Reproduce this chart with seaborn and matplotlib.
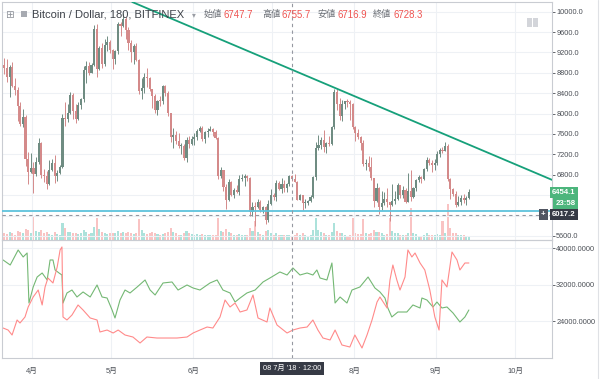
import matplotlib
matplotlib.use("Agg")
import matplotlib.pyplot as plt
import matplotlib.dates as mdates
from matplotlib.patches import Rectangle
from matplotlib.lines import Line2D
from matplotlib.ticker import FuncFormatter
import numpy as np
import pandas as pd
import seaborn as sns

# ---- data (daily bars from 2018-03-21) ----
start = pd.Timestamp("2018-03-21")
first_open = 8960

close = [
    8900, 8720, 8920, 8550, 8460, 8150, 7800, 7940, 7100, 6850,
    6940, 6820, 7060, 7420, 6800, 6780, 6620, 6900, 7030, 6770,
    6830, 6950, 7920, 7890, 8010, 8360, 8060, 7900, 8170, 8290,
    8860, 8930, 8800, 8950, 9660, 8870, 9290, 8970, 9350, 9410,
    9250, 9080, 9230, 9750, 9720, 9860, 9650, 9380, 9200, 9330,
    9060, 8450, 8500, 8720, 8690, 8490, 8350, 8070, 8250, 8240,
    8540, 8410, 8010, 7540, 7590, 7470, 7360, 7370, 7120, 7480,
    7400, 7500, 7540, 7650, 7720, 7500, 7630, 7660, 7690, 7630,
    7530, 6780, 6890, 6560, 6310, 6650, 6410, 6510, 6470, 6710,
    6740, 6780, 6730, 6060, 6170, 6160, 6270, 6100, 6170, 5910,
    6230, 6410, 6370, 6630, 6520, 6610, 6540, 6610, 6770, 6720,
    6660, 6310, 6400, 6250, 6250, 6280, 6360, 6750, 7330, 7390,
    7480, 7340, 7420, 7410, 7730, 8430, 8180, 7950, 8190, 8240,
    8220, 8190, 7740, 7610, 7550, 7430, 7020, 7040, 6950, 6730,
    6290, 6550, 6160, 6250, 6330, 6260, 6200, 6280, 6320, 6590,
    6400, 6500, 6270, 6490, 6370, 6540, 6700, 6750, 6710, 6920,
    7090, 7040, 6990, 7030, 7200, 7280, 7270, 7370, 6710, 6520,
    6420, 6210, 6260, 6340, 6300, 6340, 6454.1,
]
high = [
    9100, 9080, 8950, 9020, 8700, 8520, 8220, 8090, 7980, 7250,
    7220, 7060, 7150, 7520, 7440, 6920, 6870, 7080, 7110, 7180,
    6900, 6990, 8000, 8220, 8180, 8420, 8400, 8180, 8230, 8300,
    8930, 9040, 9010, 9000, 9740, 9760, 9330, 9390, 9460, 9530,
    9450, 9260, 9250, 9800, 9800, 9980, 9890, 9700, 9450, 9370,
    9380, 9080, 8690, 8790, 8890, 8720, 8490, 8380, 8270, 8340,
    8570, 8570, 8440, 8020, 7720, 7660, 7620, 7420, 7400, 7540,
    7570, 7570, 7620, 7700, 7760, 7760, 7650, 7720, 7760, 7710,
    7670, 7540, 6950, 6900, 6610, 6710, 6680, 6550, 6600, 6800,
    6810, 6810, 6800, 6750, 6260, 6270, 6320, 6310, 6190, 6180,
    6300, 6530, 6450, 6700, 6670, 6740, 6690, 6640, 6800, 6790,
    6810, 6680, 6420, 6400, 6330, 6310, 6400, 6780, 7450, 7590,
    7550, 7680, 7450, 7560, 7760, 8480, 8490, 8300, 8270, 8250,
    8290, 8270, 8210, 7760, 7700, 7560, 7490, 7100, 7170, 7150,
    6740, 6630, 6560, 6480, 6470, 6540, 6270, 6620, 6480, 6630,
    6600, 6580, 6550, 6830, 6890, 6560, 6720, 6800, 6780, 6940,
    7140, 7130, 7080, 7100, 7260, 7330, 7350, 7440, 7400, 6730,
    6550, 6480, 6380, 6400, 6420, 6380, 6520,
]
low = [
    8780, 8620, 8330, 8530, 8370, 7860, 7760, 7740, 6980, 6610,
    6840, 6440, 6780, 7020, 6730, 6650, 6530, 6600, 6880, 6630,
    6670, 6810, 6930, 7760, 7830, 7990, 7900, 7820, 7880, 8100,
    8220, 8610, 8760, 8790, 8940, 8720, 8850, 8900, 8930, 9220,
    9180, 8870, 8970, 9160, 9520, 9690, 9470, 9240, 9020, 8980,
    9040, 8390, 8290, 8410, 8530, 8440, 8110, 8020, 7970, 8150,
    8180, 8350, 7950, 7450, 7330, 7400, 7330, 7200, 7080, 7060,
    7320, 7380, 7390, 7490, 7630, 7470, 7420, 7550, 7650, 7560,
    7510, 6720, 6730, 6480, 6120, 6290, 6380, 6340, 6440, 6410,
    6670, 6570, 6680, 5990, 5990, 5800, 6150, 6070, 6040, 5830,
    5870, 6210, 6300, 6290, 6500, 6450, 6470, 6470, 6570, 6680,
    6650, 6300, 6310, 6100, 6150, 6200, 6260, 6340, 6690, 7290,
    7300, 7250, 7230, 7370, 7380, 7700, 8080, 7880, 7850, 8090,
    8120, 7880, 7690, 7460, 7500, 7290, 6970, 6890, 6880, 6700,
    6160, 6260, 6030, 6110, 6200, 6170, 5890, 6190, 6220, 6300,
    6340, 6350, 6250, 6260, 6290, 6350, 6480, 6660, 6640, 6700,
    6880, 6990, 6860, 6900, 7000, 7150, 7220, 7260, 6680, 6330,
    6380, 6160, 6180, 6200, 6250, 6210, 6320,
]
volume = [
    1.2, 1.0, 1.4, 1.1, 0.9, 1.5, 1.3, 1.1, 1.8, 1.6,
    1.2, 4.1, 1.5, 1.4, 1.6, 1.2, 1.3, 1.0, 0.9, 1.3,
    1.0, 0.9, 2.9, 2.0, 1.3, 1.4, 1.2, 1.1, 1.0, 1.1,
    1.6, 1.3, 1.0, 1.1, 2.2, 3.7, 1.8, 1.4, 1.2, 1.0,
    1.1, 1.2, 1.1, 1.5, 1.1, 1.3, 1.2, 1.3, 1.2, 1.0,
    1.1, 3.6, 1.6, 1.2, 1.0, 1.1, 1.3, 1.2, 1.0, 0.8,
    1.0, 1.1, 1.4, 2.0, 1.4, 1.1, 0.8, 0.8, 1.2, 1.5,
    1.1, 1.0, 0.9, 1.0, 0.9, 1.0, 0.9, 0.8, 0.8, 0.8,
    0.9, 3.7, 1.5, 1.3, 1.9, 1.3, 1.1, 0.8, 0.9, 1.0,
    0.9, 0.9, 0.8, 2.0, 1.5, 3.2, 1.4, 1.0, 0.9, 1.5,
    1.6, 1.1, 0.9, 1.2, 0.9, 0.9, 0.8, 0.8, 0.9, 0.7,
    0.8, 1.2, 0.9, 1.1, 0.8, 0.7, 0.8, 1.6, 3.7, 1.6,
    1.3, 1.1, 0.9, 0.8, 1.4, 2.9, 1.5, 1.2, 1.1, 0.8,
    0.7, 0.9, 3.7, 1.2, 1.0, 1.0, 3.5, 1.1, 1.0, 1.1,
    1.6, 1.3, 1.4, 1.1, 0.9, 1.0, 3.7, 1.5, 1.1, 1.2,
    0.9, 0.8, 0.9, 1.2, 5.4, 1.1, 1.0, 0.7, 0.7, 0.9,
    1.1, 0.9, 0.9, 0.8, 1.0, 0.9, 3.2, 1.2, 6.1, 2.0,
    1.2, 1.1, 0.9, 0.8, 0.8, 0.7, 0.6,
]

# lower pane: two indicator lines (days after 2018-03-21, value)
green_day = [
    0, 2.7, 5.7, 7.6, 9.1, 9.8, 11.4, 12.9, 14.8, 16.7,
    17.8, 18.9, 19.7, 21.2, 22.3, 22.7, 24.2, 26.1, 28, 30.3,
    33, 35.6, 37.5, 39.4, 41.3, 42.4, 44.3, 46.2, 48.1, 50.8,
    53.8, 55.7, 57.6, 60.6, 64, 66.3, 69.7, 72, 74.6, 78.4,
    81.1, 83.3, 86, 87.9, 89.8, 92.4, 95.5, 98.5, 101.1, 104.9,
    107.6, 109.8, 112.5, 115.2, 117.4, 118.9, 120.1, 122.7, 124.6, 125.8,
    127.7, 130.3, 132.2, 135.2, 138.3, 140.9, 142.8, 144.7, 145.8, 147.3,
    149.6, 153, 155.3, 158, 158.7, 160.6, 162.9, 164.4, 166.3, 168.2,
    170.5, 173.1, 175, 176.5,
]
green_val = [
    37480, 36380, 39670, 38140, 39010, 28050, 31560, 33750, 34630, 33100,
    37480, 37480, 35290, 34630, 34190, 28050, 30250, 30900, 29370, 30470,
    29370, 32000, 29370, 29150, 26520, 24770, 28710, 30900, 30250, 31560,
    33100, 30900, 29810, 32440, 32660, 30900, 32000, 31340, 30900, 32440,
    33100, 30900, 30250, 28270, 29150, 30250, 30900, 32660, 33530, 34850,
    34190, 35730, 34190, 34630, 34190, 35290, 33530, 33100, 36820, 28050,
    29370, 28050, 30900, 31560, 33750, 31340, 30470, 29150, 26960, 24990,
    26080, 26080, 27620, 26960, 29150, 28710, 27180, 28270, 26960, 27180,
    25860, 23890, 24990, 26520,
]
red_day = [
    0, 1.9, 3.4, 5.3, 6.4, 8.3, 9.5, 11.4, 13.3, 14.8,
    15.9, 17, 18.9, 20.5, 21.6, 22.3, 22.7, 24.2, 26.1, 28.4,
    30.3, 33, 35.6, 36.7, 39.4, 41.7, 43.6, 46.2, 49.2, 51.9,
    54.5, 58.3, 62.1, 65.9, 69.7, 72, 74.6, 77.3, 79.5, 82.2,
    84.1, 86, 87.9, 89.8, 92.4, 94.7, 96.6, 100, 101.1, 103.8,
    107.6, 109.8, 112.5, 115.2, 117.4, 119.3, 121.2, 123.9, 125.8, 128.4,
    131.4, 133.3, 136, 137.9, 139.8, 141.7, 142.8, 145.5, 146.6, 147.7,
    149.2, 150.4, 152.3, 153.4, 154.9, 156.1, 158, 159.8, 161.7, 163.6,
    165.2, 166.3, 168.2, 170.1, 172, 173.1, 175, 176.5,
]
red_val = [
    22570, 22130, 21040, 24330, 23670, 24990, 27180, 29370, 30900, 27620,
    31560, 33530, 32440, 35950, 39670, 40330, 24990, 24330, 25420, 27620,
    26520, 24770, 24330, 21700, 22130, 21480, 22130, 21040, 20600, 19290,
    20600, 20380, 20380, 20380, 20600, 21480, 22130, 22790, 22570, 24990,
    28710, 27180, 28050, 26080, 26520, 29810, 24770, 23890, 26960, 23230,
    21480, 22130, 22570, 22790, 24330, 22130, 20380, 19950, 22130, 18850,
    18410, 21040, 18190, 21040, 24330, 28270, 29370, 26960, 33100, 36380,
    33100, 30900, 33750, 39670, 38140, 39010, 36820, 35290, 30900, 24990,
    22130, 33100, 31560, 39230, 37480, 35290, 36820, 36820,
]

trend_when = ["2018-05-07 08:00", "2018-10-15 00:00"]
trend_price = [10225, 6700]
support_price = 6085
cross_when = "2018-07-08 12:00"
cross_price = 6017.2
last_price = 6454.1
countdown = "23:58"

# 6000 and 6400 sit behind the price tags, so they only get a grid line
price_ticks = [5600, 6800, 7200, 7600, 8000, 8400, 8800, 9200, 9600, 10000]
hidden_ticks = [6000, 6400]
osc_ticks = [24000, 32000, 40000]
month_dates = ["2018-04-01", "2018-05-01", "2018-06-01", "2018-07-01",
               "2018-08-01", "2018-09-01", "2018-10-01"]
# July's label is covered by the crosshair date box
month_labels = ["4月", "5月", "6月", "", "8月", "9月", "10月"]

symbol = "Bitcoin / Dollar, 180, BITFINEX"
ohlc_names = ["始値", "高値", "安値", "終値"]
ohlc_values = ["6747.7", "6755.7", "6716.9", "6728.3"]
cross_label = "08 7月 '18 · 12:00"

# ---- styling ----
sns.set_theme(style="white")
plt.rcParams["font.family"] = ["Liberation Sans", "Noto Sans CJK JP", "DejaVu Sans"]

UP, DOWN = "#6f8c82", "#d48a8a"
VOL_UP, VOL_DOWN = "#76cfc3", "#f59c9c"
GRID = "#eef1f5"
TXT = "#4b4f56"

W, H = 600, 379
fig = plt.figure(figsize=(6, 3.79), dpi=100)
fig.patch.set_facecolor("white")


def rect(l, t, r, b):
    return [l / W, 1 - b / H, (r - l) / W, (b - t) / H]


ax = fig.add_axes(rect(2, 2, 552, 240))
ax2 = fig.add_axes(rect(2, 240, 552, 358), sharex=ax)
vax = ax.twinx()
ax.set_zorder(vax.get_zorder() + 1)
ax.patch.set_visible(False)

bars = pd.DataFrame({
    "when": start + pd.to_timedelta(np.arange(len(close)) + 0.5, unit="D"),
    "open": [first_open] + close[:-1],
    "high": high,
    "low": low,
    "close": close,
    "volume": volume,
})
bars["up"] = bars["close"] >= bars["open"]
xnum = mdates.date2num(bars["when"])
colors = np.where(bars["up"], UP, DOWN)

# volume underneath the candles
vax.bar(xnum, bars["volume"], width=0.78, color=np.where(bars["up"], VOL_UP, VOL_DOWN),
        alpha=0.6, linewidth=0)
vax.set_ylim(0, 40)
vax.set_yticks([])
for s in vax.spines.values():
    s.set_visible(False)

# candles
ax.vlines(xnum, bars["low"], bars["high"], colors=colors, linewidth=0.7, zorder=3)
body_low = bars[["open", "close"]].min(axis=1)
body_h = (bars["close"] - bars["open"]).abs().clip(lower=20)
ax.bar(xnum, body_h, bottom=body_low, width=0.8, color=colors, linewidth=0, zorder=3)

# drawings
tw = mdates.date2num(pd.to_datetime(trend_when))
ax.axline((tw[0], trend_price[0]), (tw[1], trend_price[1]), color="#16a07a", lw=1.3, zorder=4)
ax.axhline(support_price, color="#5ec3dc", lw=1.3, zorder=4)
ax.axhline(cross_price, color="#9598a1", lw=0.8, ls=(0, (3, 3)), zorder=4)
cx = mdates.date2num(pd.Timestamp(cross_when))
for a in (ax, ax2):
    a.axvline(cx, color="#9598a1", lw=0.8, ls=(0, (3, 3)), zorder=4)

# lower pane lines
green = pd.DataFrame({"when": start + pd.to_timedelta(green_day, unit="D"), "value": green_val})
red = pd.DataFrame({"when": start + pd.to_timedelta(red_day, unit="D"), "value": red_val})
sns.lineplot(data=green, x="when", y="value", ax=ax2, color="#74b874", lw=0.8)
sns.lineplot(data=red, x="when", y="value", ax=ax2, color="#ff8a8a", lw=0.8)

# axes setup
ax.set_xlim(mdates.date2num(start - pd.Timedelta(hours=10)),
            mdates.date2num(pd.Timestamp("2018-10-15")))
ax.set_ylim(5520, 10190)
ax2.set_ylim(16000, 41860)

ax2.set_xticks(mdates.date2num(pd.to_datetime(month_dates)), month_labels)
ax.set_yticks(price_ticks)
ax.set_yticks(hidden_ticks, minor=True)
ax2.set_yticks(osc_ticks)
ax.yaxis.set_major_formatter(FuncFormatter(lambda v, p: f"{v:.1f}"))
ax2.yaxis.set_major_formatter(FuncFormatter(lambda v, p: f"{v:.4f}"))

for a in (ax, ax2):
    a.set_xlabel("")
    a.set_ylabel("")
    a.yaxis.tick_right()
    a.grid(True, which="both", color=GRID, lw=0.8)
    a.set_axisbelow(True)
    a.tick_params(axis="y", which="major", right=True, left=False, length=2, width=0.6,
                  color=TXT, labelsize=5.3, labelcolor=TXT, pad=1)
    a.tick_params(axis="y", which="minor", right=False, left=False, labelright=False)
    for s in a.spines.values():
        s.set_color("#c9ccd2")
        s.set_linewidth(0.8)
ax.tick_params(axis="x", bottom=False, labelbottom=False)
ax2.tick_params(axis="x", bottom=False, labelsize=5.5, labelcolor=TXT, pad=0.8)


def tag(text, price, fc, dy=0.0, dx=17.0, ha="right"):
    ax.annotate(text, xy=(1, price), xycoords=("axes fraction", "data"),
                xytext=(dx, dy), textcoords="offset points", ha=ha, va="center",
                fontsize=5.6, color="white", fontweight="bold",
                bbox=dict(boxstyle="square,pad=0.3", fc=fc, ec="none"),
                annotation_clip=False, zorder=20)


tag(f"{last_price:.1f}", last_price, "#4cb57c")
tag(countdown, last_price, "#4cb57c", dy=-7.9)
tag(f"{cross_price:.1f}", cross_price, "#363a45")
tag("+", cross_price, "#505561", dx=-6.2, ha="center")

ax2.annotate(cross_label, xy=(cx, 0), xycoords=("data", "axes fraction"),
             xytext=(0, -7.3), textcoords="offset points", ha="center", va="center",
             fontsize=5.3, color="white",
             bbox=dict(boxstyle="square,pad=0.4", fc="#363a45", ec="none"),
             annotation_clip=False, zorder=20)

# header legend


def fx(x):
    return x / W


def fy(y):
    return 1 - y / H


hy = fy(14.5)
fig.text(fx(32), hy, symbol, fontsize=8.0, color="#3f434a", va="center")
fig.text(fx(192), hy, "▾", fontsize=5.5, color="#9a9da4", va="center", family="DejaVu Sans")
for name, val, x0 in zip(ohlc_names, ohlc_values, [204, 262, 317, 373]):
    fig.text(fx(x0), hy, name, fontsize=6.6, color="#6a6e75", va="center")
    fig.text(fx(x0 + 20), hy, val, fontsize=6.9, color="#ef5350", va="center")
fig.text(fx(5), hy, "⊞", fontsize=7.5, color="#8f939a", va="center", family="DejaVu Sans")
fig.patches.append(Rectangle((fx(21), fy(17)), 6 / W, 6 / H, transform=fig.transFigure,
                             fc="#a7aab1", ec="none"))
for x0 in (527, 533):
    fig.patches.append(Rectangle((fx(x0), fy(27)), 4.5 / W, 9 / H, transform=fig.transFigure,
                                 fc="#d3d5da", ec="none"))

fig.lines.append(Line2D([fx(597.5), fx(597.5)], [0, 1], transform=fig.transFigure,
                        color="#dfe1e5", lw=0.8))

fig.savefig("out.png", dpi=100, facecolor="white")
